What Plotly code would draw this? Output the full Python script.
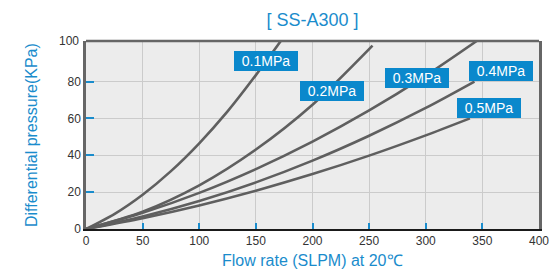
import plotly.graph_objects as go

# Data
series_names = ["0.1MPa", "0.2MPa", "0.3MPa", "0.4MPa", "0.5MPa"]

flow_01 = [0, 25, 50, 75, 100, 125, 150, 172]
dp_01 = [0, 8.1, 18.6, 31.4, 46.5, 63.8, 83.5, 102]

flow_02 = [0, 50, 100, 150, 200, 253]
dp_02 = [0, 9.4, 23.7, 43.1, 67.4, 99.5]

flow_03 = [0, 50, 100, 150, 200, 250, 300, 345]
dp_03 = [0, 8.8, 19.6, 32.5, 47.4, 64.3, 83.2, 102]

flow_04 = [0, 50, 100, 150, 200, 250, 300, 343]
dp_04 = [0, 6.8, 15.2, 25.3, 37.1, 50.6, 65.7, 80]

flow_05 = [0, 50, 100, 150, 200, 250, 300, 339]
dp_05 = [0, 5.9, 12.8, 20.8, 29.8, 39.8, 50.8, 60]

x_ticks = [0, 50, 100, 150, 200, 250, 300, 350, 400]
y_ticks = [0, 20, 40, 60, 80]
y_top_label = "100"

label_pos = {
    "0.1MPa": (159.3, 91.2),
    "0.2MPa": (217.6, 75.0),
    "0.3MPa": (292.6, 81.9),
    "0.4MPa": (366.7, 85.7),
    "0.5MPa": (356.0, 65.8),
}

BLUE = "#1a8ccc"
LINE = "#5f5f5f"
FONT = "Liberation Sans, Arial, sans-serif"
W, H = 550, 270
L, R, T, B = 86, 11, 41, 41

fig = go.Figure()
for name, xs, ys in zip(series_names,
                        [flow_01, flow_02, flow_03, flow_04, flow_05],
                        [dp_01, dp_02, dp_03, dp_04, dp_05]):
    fig.add_trace(go.Scatter(x=xs, y=ys, mode="lines", name=name,
                             line=dict(color=LINE, width=2.6, shape="spline", smoothing=0.8),
                             showlegend=False, hoverinfo="skip"))

for name in series_names:
    lx, ly = label_pos[name]
    fig.add_annotation(x=lx, y=ly, xref="x", yref="y", text=name, showarrow=False,
                       bgcolor="#0a88cc", font=dict(color="white", size=14, family=FONT),
                       width=64, height=20, borderpad=0, borderwidth=0)

pw = W - L - R
ph = H - T - B
# Top "100" tick label sits at the top frame in the reference
fig.add_annotation(xref="paper", yref="paper", x=-5 / pw, y=1, text=y_top_label,
                   showarrow=False, xanchor="right", yanchor="middle",
                   font=dict(size=12, color="#333333", family=FONT))
# Axis titles placed in paper coordinates
fig.add_annotation(xref="paper", yref="paper", x=(312 - L) / pw, y=-(260 - (H - B)) / ph,
                   text="Flow rate (SLPM) at 20℃", showarrow=False,
                   xanchor="center", yanchor="middle",
                   font=dict(color=BLUE, size=16, family=FONT))
fig.add_annotation(xref="paper", yref="paper", x=-(L - 31) / pw, y=(H - B - 135) / ph,
                   text="Differential pressure(KPa)", showarrow=False, textangle=-90,
                   xanchor="center", yanchor="middle",
                   font=dict(color=BLUE, size=16, family=FONT))

fig.add_shape(type="line", xref="paper", yref="paper", x0=0, x1=1, y0=1, y1=1,
              line=dict(color="#666666", width=2.5))

fig.update_layout(
    width=W, height=H,
    margin=dict(l=L, r=R, t=T, b=B, autoexpand=False),
    paper_bgcolor="white", plot_bgcolor="#ececec",
    title=dict(text="[ SS-A300 ]", x=(86 + 539) / 2 / W, xanchor="center",
               y=1 - 20 / H, yanchor="middle",
               font=dict(color=BLUE, size=18, family=FONT)),
    font=dict(family=FONT),
)
fig.update_xaxes(range=[0, 400], tickvals=x_ticks, ticktext=[str(v) for v in x_ticks],
                 showgrid=True, gridcolor="#cbcbcb", gridwidth=1,
                 showline=True, linecolor="#1a1a1a", linewidth=2,
                 ticks="inside", ticklen=6, tickcolor=BLUE, tickwidth=1.5,
                 tickfont=dict(size=12, color="#333333", family=FONT),
                 zeroline=False, automargin=False)
fig.update_yaxes(range=[0, 102], tickvals=y_ticks, ticktext=[str(v) for v in y_ticks],
                 showgrid=True, gridcolor="#cbcbcb", gridwidth=1,
                 showline=True, linecolor="#666666", linewidth=2.5, mirror=True,
                 ticks="inside", ticklen=8, tickcolor=BLUE, tickwidth=1.5,
                 tickfont=dict(size=12, color="#333333", family=FONT),
                 zeroline=False, automargin=False)

fig.write_html("out.html", config={"displayModeBar": False},
               post_script="document.body.style.margin='0px';")
